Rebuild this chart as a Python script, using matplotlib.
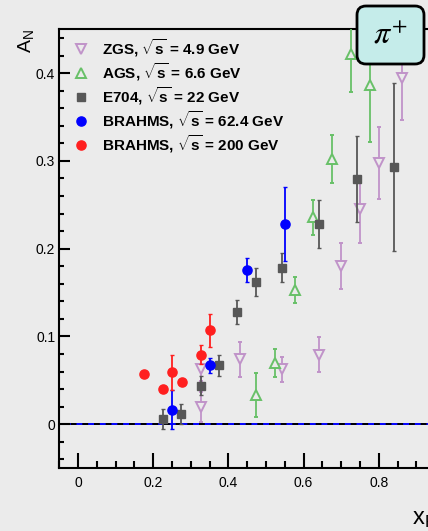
import matplotlib
matplotlib.use("Agg")
import matplotlib.pyplot as plt
from matplotlib.lines import Line2D
from matplotlib.patches import FancyBboxPatch
from matplotlib.ticker import MultipleLocator, FuncFormatter

plt.rcParams['font.family'] = ['Liberation Sans', 'DejaVu Sans']
plt.rcParams['mathtext.fontset'] = 'custom'
plt.rcParams['mathtext.rm'] = 'Liberation Sans'
plt.rcParams['mathtext.it'] = 'Liberation Sans:italic'
plt.rcParams['mathtext.bf'] = 'Liberation Sans:bold'

# ---- data: A_N vs x_F for pi+ ----
zgs_x = [0.327, 0.328, 0.431, 0.542, 0.641, 0.700, 0.751, 0.800, 0.861]
zgs_y = [0.020, 0.0625, 0.074, 0.0625, 0.079, 0.180, 0.245, 0.298, 0.394]
zgs_err = [0.017, 0.013, 0.020, 0.014, 0.020, 0.026, 0.038, 0.041, 0.047]

ags_x = [0.4735, 0.525, 0.576, 0.626, 0.675, 0.725, 0.776]
ags_y = [0.033, 0.070, 0.153, 0.236, 0.302, 0.422, 0.386]
ags_err = [0.025, 0.016, 0.015, 0.020, 0.027, 0.044, 0.065]

e704_x = [0.227, 0.275, 0.326, 0.374, 0.424, 0.474, 0.543, 0.642, 0.742, 0.841]
e704_y = [0.006, 0.012, 0.044, 0.067, 0.128, 0.162, 0.178, 0.228, 0.279, 0.293]
e704_err = [0.0115, 0.0114, 0.0106, 0.0123, 0.0134, 0.0163, 0.0165, 0.027, 0.049, 0.0955]

b62_x = [0.250, 0.350, 0.450, 0.551]
b62_y = [0.0166, 0.067, 0.176, 0.228]
b62_err = [0.022, 0.0085, 0.0136, 0.042]

b200_x = [0.176, 0.226, 0.250, 0.276, 0.326, 0.351]
b200_y = [0.057, 0.040, 0.059, 0.048, 0.079, 0.107]
b200_err = [0.003, 0.003, 0.020, 0.003, 0.011, 0.0185]

labels = [
    r"ZGS, $\sqrt{\mathbf{s}}$ = 4.9 GeV",
    r"AGS, $\sqrt{\mathbf{s}}$ = 6.6 GeV",
    r"E704, $\sqrt{\mathbf{s}}$ = 22 GeV",
    r"BRAHMS, $\sqrt{\mathbf{s}}$ = 62.4 GeV",
    r"BRAHMS, $\sqrt{\mathbf{s}}$ = 200 GeV",
]

BG = '#ebebeb'
PURPLE = '#c093c9'
GREEN = '#68c068'
GRAY = '#575757'
BLUE = '#0000ff'
RED = '#ff1f1f'

fig = plt.figure(figsize=(4.28, 5.31), dpi=100, facecolor=BG)
ax = fig.add_axes([0.1386, 0.1186, 0.922, 0.8262], facecolor=BG)
ax.set_xlim(-0.05, 1.0)
ax.set_ylim(-0.05, 0.45)

# zero reference line
ax.axhline(0, color=BLUE, lw=1.4, zorder=1.2)
ax.axhline(0, color='black', lw=1.4, ls=(0, (3, 3)), zorder=1.3)

styles = [
    (zgs_x, zgs_y, zgs_err, 'v', PURPLE, BG, 7.5, 1.4),
    (ags_x, ags_y, ags_err, '^', GREEN, BG, 7.5, 1.4),
    (e704_x, e704_y, e704_err, 's', GRAY, GRAY, 6.3, 1.0),
    (b62_x, b62_y, b62_err, 'o', BLUE, BLUE, 6.6, 1.0),
    (b200_x, b200_y, b200_err, 'o', RED, RED, 6.6, 1.0),
]

handles = []
for i, (x, y, e, m, c, fc, ms, mew) in enumerate(styles):
    ax.errorbar(x, y, yerr=e, fmt=m, color=c, mfc=fc, mec=c, ms=ms, mew=mew,
                elinewidth=1.3, capsize=1.6, capthick=1.3, zorder=3 + i)
    handles.append(Line2D([], [], ls='none', marker=m, color=c, mfc=fc if fc != BG else 'none',
                          mec=c, ms=ms, mew=mew))

leg = ax.legend(handles, labels, loc='upper left', bbox_to_anchor=(0.037, 0.982),
                frameon=False, borderpad=0, borderaxespad=0, handlelength=0.9,
                handletextpad=0.95, labelspacing=0.13,
                prop={'weight': 'bold', 'size': 11})

# axes styling
for s in ax.spines.values():
    s.set_linewidth(1.5)
ax.xaxis.set_major_locator(MultipleLocator(0.2))
ax.xaxis.set_minor_locator(MultipleLocator(0.05))
ax.yaxis.set_major_locator(MultipleLocator(0.1))
ax.yaxis.set_minor_locator(MultipleLocator(0.02))
xfmt = FuncFormatter(lambda v, p: '%g' % round(v, 3) if v < 0.9 else '')
yfmt = FuncFormatter(lambda v, p: '%g' % round(v, 3))
ax.xaxis.set_major_formatter(xfmt)
ax.yaxis.set_major_formatter(yfmt)
ax.tick_params(axis='x', which='major', direction='in', length=10.6, width=1.5, pad=6, labelsize=10)
ax.tick_params(axis='x', which='minor', direction='in', length=5.3, width=1.5)
ax.tick_params(axis='y', which='major', direction='in', length=7.9, width=1.5, pad=3, labelsize=10)
ax.tick_params(axis='y', which='minor', direction='in', length=3.6, width=1.5)

# axis titles
fig.text(26.5 / 428, 1 - 29 / 531, r"A$_{\mathrm{N}}$", rotation=90, ha='center', va='top', fontsize=14)
fig.text(412 / 428, 1 - 524 / 531, r"x$_{\mathrm{F}}$", ha='left', va='baseline', fontsize=17)

# particle tag
box = FancyBboxPatch((3.57, 4.67), 0.67, 0.58, boxstyle='round,pad=0,rounding_size=0.09',
                     transform=fig.dpi_scale_trans, facecolor='#c5ecea', edgecolor='black',
                     linewidth=2.0, zorder=10)
fig.add_artist(box)
fig.text(390.5 / 428, 1 - 36 / 531, r"$\pi^{+}$", ha='center', va='center', fontsize=23,
         math_fontfamily='stix', zorder=11)

fig.savefig('out.png', dpi=100, facecolor=BG)
